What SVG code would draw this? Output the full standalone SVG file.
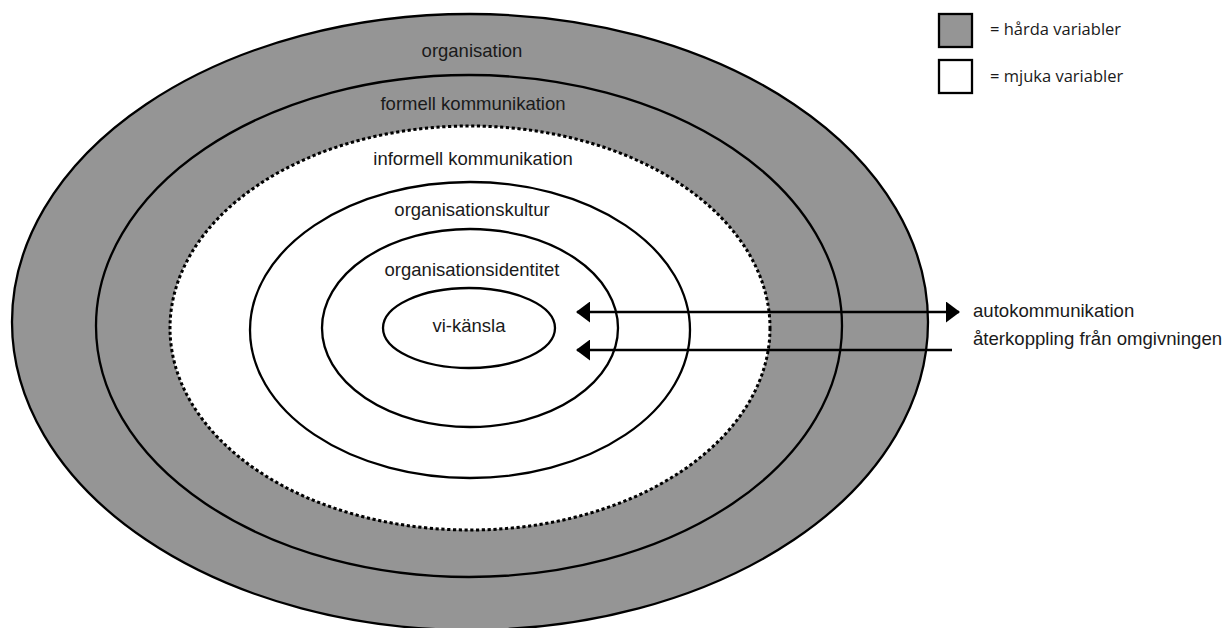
<svg xmlns="http://www.w3.org/2000/svg" width="1225" height="628" viewBox="0 0 1225 628">
  <style>
    .hard { fill: #959595; stroke: #000; stroke-width: 2.3; }
    .soft { fill: #fff; stroke: #000; stroke-width: 2.3; }
    .dashed { fill: #fff; stroke: #000; stroke-width: 3; stroke-dasharray: 3.2 2.6; }
    .lbl { font-family: "Liberation Sans", Arial, sans-serif; font-size: 18.5px; fill: #1a1a1a; text-anchor: middle; }
    .side { font-family: "Liberation Sans", Arial, sans-serif; font-size: 18.6px; fill: #1a1a1a; }
    .legend { font-family: "Open Sans", "Noto Sans", sans-serif; font-size: 16.5px; fill: #1a1a1a; }
    .conn { fill: none; stroke: #000; stroke-width: 2.4; }
  </style>
  <defs>
    <marker id="head" viewBox="0 0 14 21" refX="13" refY="10.5" markerWidth="14" markerHeight="21" markerUnits="userSpaceOnUse" orient="auto-start-reverse">
      <path d="M0,0 L14,10.5 L0,21 Z" fill="#000"/>
    </marker>
  </defs>

  <rect width="1225" height="628" fill="#fff"/>

  <!-- nested layers, outermost first -->
  <g id="organisation">
    <ellipse class="hard" cx="470" cy="322" rx="458" ry="308"/>
    <text class="lbl" x="472" y="57">organisation</text>
  </g>
  <g id="formell-kommunikation">
    <ellipse class="hard" cx="469" cy="326" rx="373" ry="251"/>
    <text class="lbl" x="473" y="110">formell kommunikation</text>
  </g>
  <g id="informell-kommunikation">
    <ellipse class="dashed" cx="470" cy="328" rx="300" ry="202"/>
    <text class="lbl" x="473" y="165">informell kommunikation</text>
  </g>
  <g id="organisationskultur">
    <ellipse class="soft" cx="470" cy="330" rx="220" ry="148"/>
    <text class="lbl" x="472" y="216">organisationskultur</text>
  </g>
  <g id="organisationsidentitet">
    <ellipse class="soft" cx="470" cy="328" rx="148" ry="99"/>
    <text class="lbl" x="472" y="276">organisationsidentitet</text>
  </g>
  <g id="vi-kansla">
    <ellipse class="soft" cx="469" cy="328" rx="86" ry="40"/>
    <text class="lbl" x="469" y="332">vi-känsla</text>
  </g>

  <!-- communication flows -->
  <g id="connectors">
    <path class="conn" d="M577,312 H959" marker-start="url(#head)" marker-end="url(#head)"/>
    <path class="conn" d="M952,350 H577" marker-end="url(#head)"/>
  </g>

  <g id="autokommunikation">
    <text class="side" x="973" y="317">autokommunikation</text>
  </g>
  <g id="aterkoppling">
    <text class="side" x="973" y="345">återkoppling från omgivningen</text>
  </g>

  <!-- key -->
  <g id="legend-hard">
    <rect class="hard" x="939" y="14" width="33" height="33"/>
    <text class="legend" x="990" y="35">= hårda variabler</text>
  </g>
  <g id="legend-soft">
    <rect class="soft" x="939" y="60" width="33" height="33"/>
    <text class="legend" x="990" y="82">= mjuka variabler</text>
  </g>
</svg>
